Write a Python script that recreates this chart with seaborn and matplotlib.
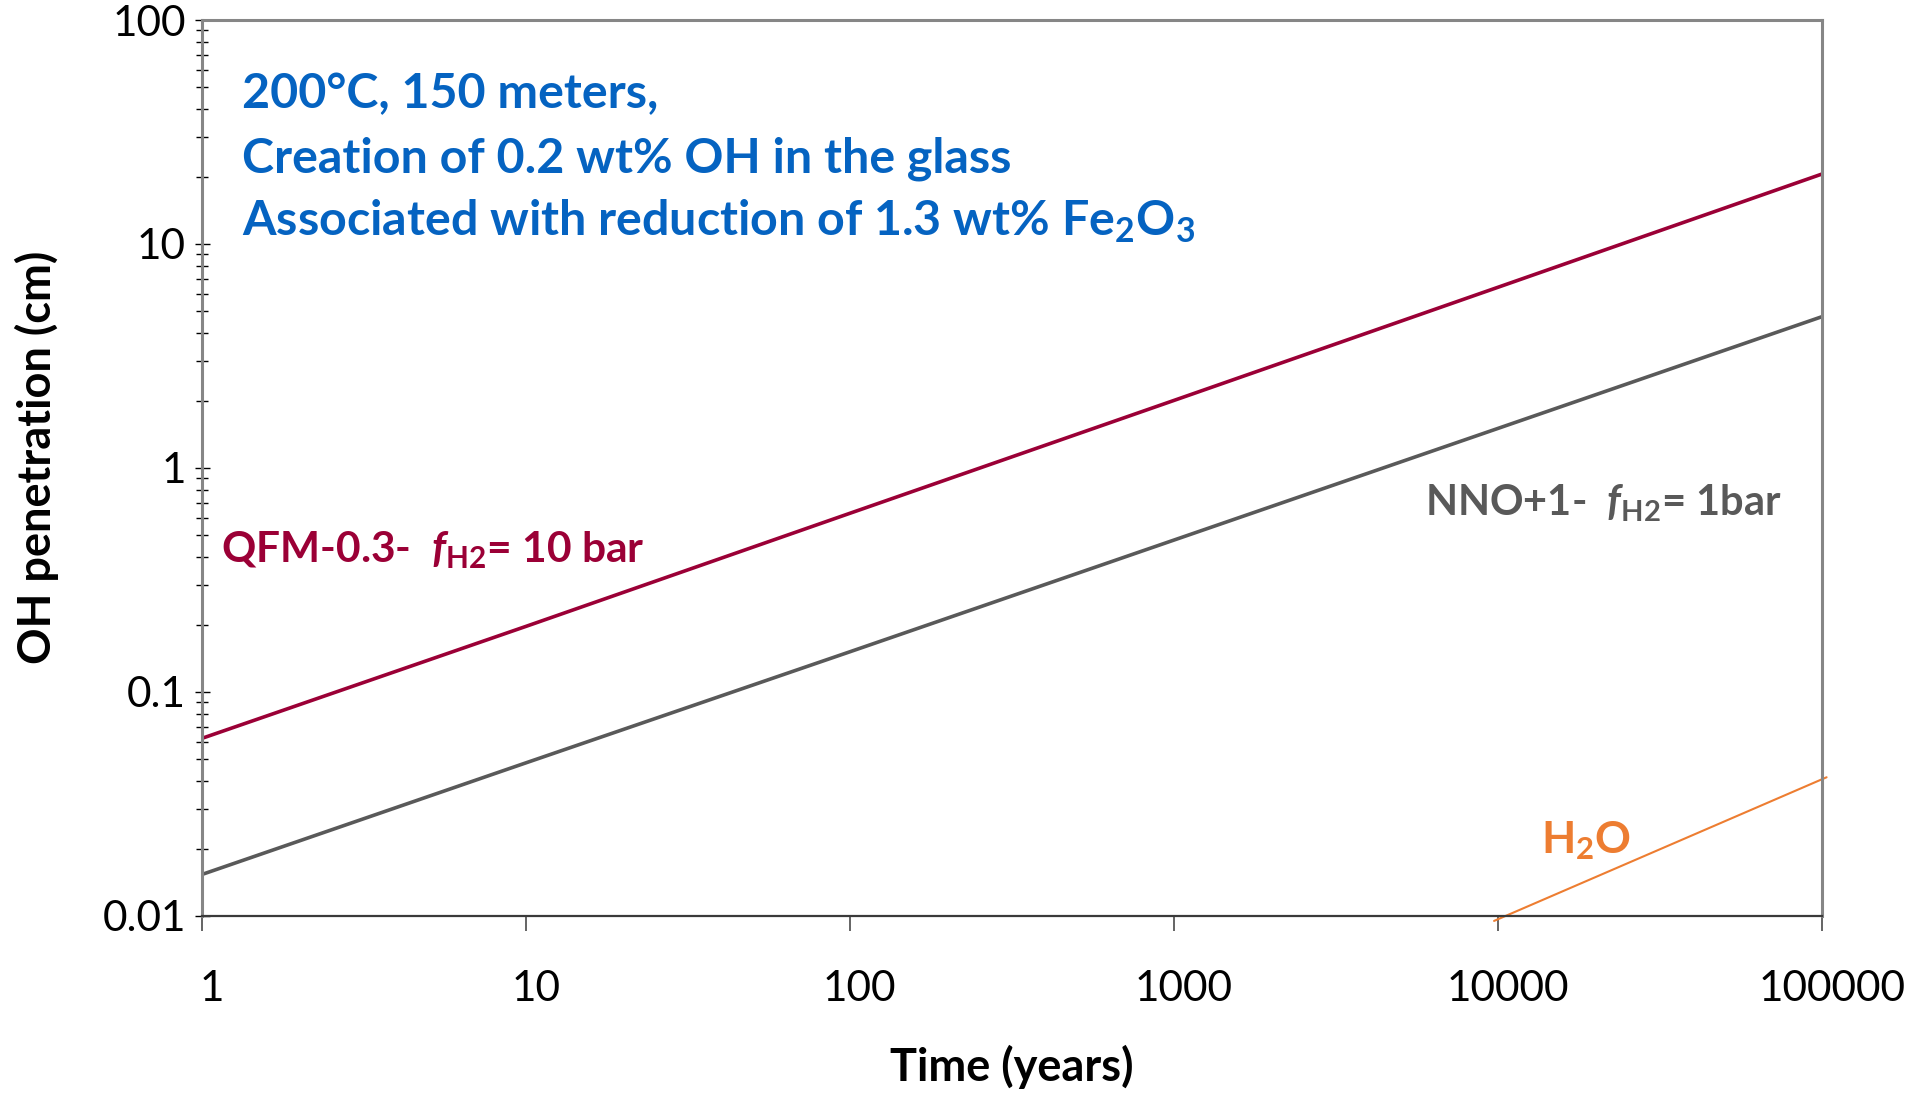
import matplotlib
matplotlib.use("Agg")
import matplotlib.pyplot as plt
import matplotlib.ticker as mticker
from matplotlib.transforms import ScaledTranslation
import numpy as np
import pandas as pd
import seaborn as sns

# ---- data -------------------------------------------------------------
time_years = [1, 10, 100, 1000, 10000, 100000]
oh_qfm = [0.062, 0.196, 0.627, 2.0, 6.4, 20.5]       # QFM-0.3, fH2 = 10 bar
oh_nno = [0.0153, 0.0482, 0.151, 0.476, 1.50, 4.73]  # NNO+1, fH2 = 1 bar
time_h2o = [9750, 103600]
oh_h2o = [0.0095, 0.0416]                            # molecular water

x_ticks = [1, 10, 100, 1000, 10000, 100000]
y_ticks = [0.01, 0.1, 1, 10, 100]

# ---- style --------------------------------------------------------------
sns.set_theme(style="white")
plt.rcParams["font.family"] = ["Lato", "DejaVu Sans"]
plt.rcParams["mathtext.fontset"] = "custom"
plt.rcParams["mathtext.rm"] = "Lato:bold"
plt.rcParams["mathtext.bf"] = "Lato:bold"
plt.rcParams["mathtext.it"] = "Lato:bold:italic"

RED = "#9B0036"
GREY = "#595959"
ORANGE = "#ED7D31"
BLUE = "#0563C1"

fig = plt.figure(figsize=(19.26, 10.93), dpi=100)
ax = fig.add_axes([0.1047, 0.162, 0.8411, 0.8197])

df_qfm = pd.DataFrame({"time": time_years, "oh": oh_qfm})
df_nno = pd.DataFrame({"time": time_years, "oh": oh_nno})
df_h2o = pd.DataFrame({"time": time_h2o, "oh": oh_h2o})

sns.lineplot(data=df_qfm, x="time", y="oh", color=RED, linewidth=2.6, ax=ax)
sns.lineplot(data=df_nno, x="time", y="oh", color=GREY, linewidth=2.6, ax=ax)
sns.lineplot(data=df_h2o, x="time", y="oh", color=ORANGE, linewidth=1.5,
             ax=ax, clip_on=False)

ax.set_xscale("log")
ax.set_yscale("log")
ax.set_xlim(1, 100000)
ax.set_ylim(0.01, 100)

# ---- axes ---------------------------------------------------------------
for side in ("left", "top", "right"):
    ax.spines[side].set_color("#868686")
    ax.spines[side].set_linewidth(2.2)
ax.spines["bottom"].set_color("#3a3a3a")
ax.spines["bottom"].set_linewidth(1.6)

ax.xaxis.set_major_locator(mticker.FixedLocator(x_ticks))
ax.xaxis.set_minor_locator(mticker.NullLocator())
ax.xaxis.set_major_formatter(mticker.FuncFormatter(lambda v, p: f"{v:g}"))
ax.yaxis.set_major_locator(mticker.FixedLocator(y_ticks))
ax.yaxis.set_minor_locator(mticker.LogLocator(base=10, subs=np.arange(2, 10), numticks=50))
ax.yaxis.set_major_formatter(mticker.FuncFormatter(lambda v, p: f"{v:g}"))
ax.yaxis.set_minor_formatter(mticker.NullFormatter())

ax.tick_params(axis="x", which="major", direction="out", length=10.8, width=1.1,
               color="#3a3a3a", labelsize=30.5, labelcolor="black", pad=28,
               bottom=True)
ax.tick_params(axis="y", which="major", direction="inout", length=10.8, width=1.0,
               color="black", labelsize=30.5, labelcolor="black", pad=6, left=True)
ax.tick_params(axis="y", which="minor", direction="inout", length=8, width=1.0,
               color="black", left=True)

offset = ScaledTranslation(10 / 100, 0, fig.dpi_scale_trans)
for lab in ax.get_xticklabels():
    lab.set_transform(lab.get_transform() + offset)

ax.set_xlabel("Time (years)", fontsize=32.5, fontweight="bold", va="center",
              color="black")
ax.xaxis.set_label_coords(0.5, -0.1685)
ax.set_ylabel("OH penetration (cm)", fontsize=32.5, fontweight="bold", va="center",
              color="black")
ax.yaxis.set_label_coords(-0.1017, 0.512)

# ---- annotations --------------------------------------------------------
header = [
    "200°C, 150 meters,",
    "Creation of 0.2 wt% OH in the glass",
    r"Associated with reduction of 1.3 wt% Fe$_{\mathrm{2}}$O$_{\mathrm{3}}$",
]
for line, yb in zip(header, [0.902, 0.830, 0.759]):
    ax.text(0.0249, yb, line, transform=ax.transAxes, fontsize=34.8,
            fontweight="bold", color=BLUE, ha="left", va="baseline")

ax.text(1.147, 0.378, r"QFM-0.3-  $\mathit{f}_{\mathrm{H2}}$= 10 bar", fontsize=30.6,
        fontweight="bold", color=RED, ha="left", va="baseline")
ax.text(5970, 0.611, r"NNO+1-  $\mathit{f}_{\mathrm{H2}}$= 1bar", fontsize=30,
        fontweight="bold", color=GREY, ha="left", va="baseline")
ax.text(13600, 0.019, r"H$_{\mathrm{2}}$O", fontsize=32,
        fontweight="bold", color=ORANGE, ha="left", va="baseline")

fig.savefig("out.png", dpi=100, facecolor="white")
